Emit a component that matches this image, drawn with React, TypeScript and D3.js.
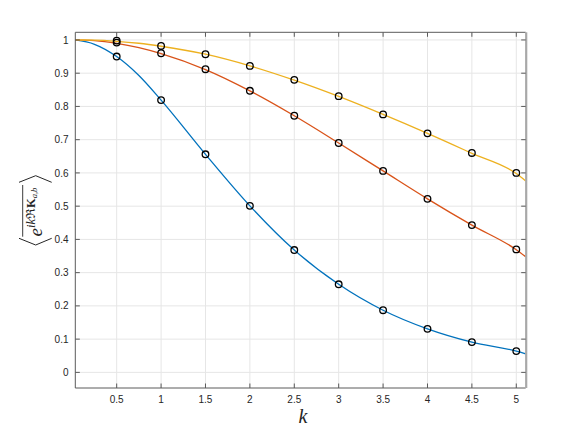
import React from "react";
import * as d3 from "d3";

// ---- data ----
const kMarks = [0.5, 1, 1.5, 2, 2.5, 3, 3.5, 4, 4.5, 5];
const blueMarks = [0.95, 0.819, 0.656, 0.501, 0.368, 0.265, 0.187, 0.131, 0.091, 0.064];
const orangeMarks = [0.992, 0.96, 0.912, 0.847, 0.772, 0.69, 0.606, 0.522, 0.443, 0.37];
const yellowMarks = [0.998, 0.982, 0.957, 0.922, 0.88, 0.831, 0.776, 0.719, 0.66, 0.6];

const kCurve = [0.034, 0.25, 0.5, 0.75, 1, 1.5, 2, 2.5, 3, 3.5, 4, 4.5, 5, 5.106];
const blueCurve = [1.0, 0.987, 0.95, 0.893, 0.819, 0.656, 0.501, 0.368, 0.265, 0.187, 0.131, 0.091, 0.064, 0.056];
const orangeCurve = [1.0, 0.998, 0.99, 0.977, 0.959, 0.911, 0.847, 0.772, 0.69, 0.606, 0.522, 0.443, 0.369, 0.348];
const yellowCurve = [1.0, 0.9995, 0.996, 0.99, 0.981, 0.957, 0.922, 0.879, 0.83, 0.776, 0.719, 0.659, 0.598, 0.576];

const xTicks = [0.5, 1, 1.5, 2, 2.5, 3, 3.5, 4, 4.5, 5];
const yTicks = [0, 0.1, 0.2, 0.3, 0.4, 0.5, 0.6, 0.7, 0.8, 0.9, 1];

const W = 581;
const H = 436;
const L = 75.3, R = 525.7, T = 32.3, B = 388;

export default function App() {
  const x = d3.scaleLinear().domain([0.034, 5.106]).range([L, R]);
  const y = d3.scaleLinear().domain([-0.047, 1.023]).range([B, T]);
  const line = d3
    .line<[number, number]>()
    .x((d) => x(d[0]))
    .y((d) => y(d[1]))
    .curve(d3.curveMonotoneX);

  const series = [
    { curve: blueCurve, marks: blueMarks, color: "#0072BD" },
    { curve: orangeCurve, marks: orangeMarks, color: "#D95319" },
    { curve: yellowCurve, marks: yellowMarks, color: "#EDB120" },
  ];
  const axisColor = "#5a5a5a";
  const tickLen = 4.5;
  const font = "'Liberation Sans', Arial, sans-serif";
  const cx = 35.7, cy = 210.5;

  return (
    <svg
      width={W}
      height={H}
      style={{ position: "absolute", left: 0, top: 0, background: "#fff" }}
    >
      <rect x={0} y={0} width={W} height={H} fill="#fff" />
      {/* grid */}
      {xTicks.map((t) => (
        <line key={"gx" + t} x1={x(t)} x2={x(t)} y1={T} y2={B} stroke="#e6e6e6" strokeWidth={1} />
      ))}
      {yTicks.map((t) => (
        <line key={"gy" + t} x1={L} x2={R} y1={y(t)} y2={y(t)} stroke="#e6e6e6" strokeWidth={1} />
      ))}
      {/* curves */}
      {series.map((s, i) => (
        <path
          key={"c" + i}
          d={line(kCurve.map((k, j) => [k, s.curve[j]] as [number, number])) || ""}
          fill="none"
          stroke={s.color}
          strokeWidth={1.3}
        />
      ))}
      {/* markers */}
      {series.map((s, i) =>
        kMarks.map((k, j) => (
          <circle
            key={"m" + i + "-" + j}
            cx={x(k)}
            cy={y(s.marks[j])}
            r={3.3}
            fill="none"
            stroke="#000"
            strokeWidth={1.3}
          />
        ))
      )}
      {/* axes box */}
      <line x1={L} x2={R} y1={T} y2={T} stroke={axisColor} strokeWidth={1} />
      <line x1={L} x2={L} y1={T} y2={B} stroke={axisColor} strokeWidth={1} />
      <line x1={L} x2={R} y1={B} y2={B} stroke={axisColor} strokeWidth={1} />
      <line x1={R + 0.5} x2={R + 0.5} y1={T} y2={B} stroke="#a8a8a8" strokeWidth={2.2} />
      {/* ticks */}
      {xTicks.map((t) => (
        <g key={"tx" + t}>
          <line x1={x(t)} x2={x(t)} y1={B} y2={B - tickLen} stroke={axisColor} />
          <line x1={x(t)} x2={x(t)} y1={T} y2={T + tickLen} stroke={axisColor} />
          <text
            x={x(t)}
            y={403}
            textAnchor="middle"
            fontFamily={font}
            fontSize={10}
            fill="#262626"
          >
            {String(t)}
          </text>
        </g>
      ))}
      {yTicks.map((t) => (
        <g key={"ty" + t}>
          <line x1={L} x2={L + tickLen} y1={y(t)} y2={y(t)} stroke={axisColor} />
          <line x1={R} x2={R - tickLen} y1={y(t)} y2={y(t)} stroke={axisColor} />
          <text
            x={68.5}
            y={y(t) + 3.6}
            textAnchor="end"
            fontFamily={font}
            fontSize={10}
            fill="#262626"
          >
            {String(t)}
          </text>
        </g>
      ))}
      {/* x label */}
      <text
        x={303}
        y={423}
        textAnchor="middle"
        fontFamily="'Liberation Serif', 'DejaVu Serif', serif"
        fontStyle="italic"
        fontSize={20}
        fill="#262626"
      >
        k
      </text>
      {/* y label */}
      <g transform={`translate(${cx},${cy}) rotate(-90)`} fill="#262626">
        <path
          d="M-27.8,-16.7 L-34.5,0 L-27.8,16"
          fill="none"
          stroke="#262626"
          strokeWidth={1}
        />
        <path
          d="M28.2,-16.7 L34.8,0 L28.2,16"
          fill="none"
          stroke="#262626"
          strokeWidth={1}
        />
        <line x1={-26.2} x2={25.5} y1={-13} y2={-13} stroke="#262626" strokeWidth={0.9} />
        <text
          x={-26}
          y={6}
          fontFamily="'Liberation Serif', 'DejaVu Serif', serif"
          fontSize={19}
        >
          <tspan fontStyle="italic">e</tspan>
          <tspan fontStyle="italic" fontSize={12.5} dy={-7}>ik</tspan>
          <tspan fontSize={12.5}>ℜ</tspan>
          <tspan fontSize={12.5} fontWeight="bold">K</tspan>
          <tspan fontStyle="italic" fontSize={8.5} dy={2.5}>a,b</tspan>
        </text>
      </g>
    </svg>
  );
}
